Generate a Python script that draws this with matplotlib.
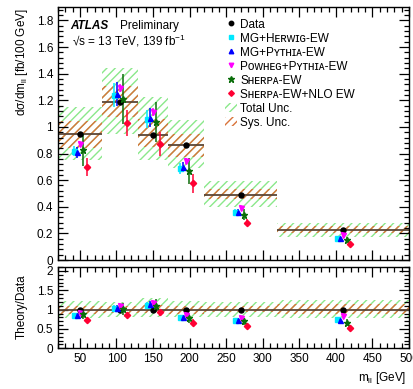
import numpy as np
import matplotlib
matplotlib.use('Agg')
import matplotlib.pyplot as plt
from matplotlib.lines import Line2D
from matplotlib.patches import Patch
from matplotlib.ticker import MultipleLocator, FuncFormatter

plt.rcParams['font.family'] = ['Liberation Sans', 'DejaVu Sans']
plt.rcParams['mathtext.default'] = 'regular'
plt.rcParams['hatch.linewidth'] = 1.0

# m_ll bins [GeV] and measured cross sections [fb/100 GeV]
edges = [20, 80, 130, 170, 220, 320, 500]
data_x = [50, 105, 150, 195, 270, 410]
data = [0.945, 1.19, 0.94, 0.863, 0.49, 0.225]

# uncertainty bands (lower / upper edges)
tot_lo = [0.75, 0.95, 0.75, 0.69, 0.40, 0.175]
tot_hi = [1.15, 1.44, 1.225, 1.05, 0.59, 0.28]
sys_lo = [0.845, 1.075, 0.85, 0.775, 0.455, 0.20]
sys_hi = [1.045, 1.31, 1.06, 0.95, 0.53, 0.255]

# theory predictions
mg_herwig = [0.82, 1.24, 1.06, 0.69, 0.36, 0.168]
mg_herwig_err = [0.04, 0.09, 0.07, 0.04, 0.02, 0.01]
mg_pythia = [0.81, 1.25, 1.07, 0.70, 0.36, 0.163]
mg_pythia_err = [0.04, 0.09, 0.07, 0.04, 0.02, 0.01]
powheg = [0.87, 1.295, 1.11, 0.745, 0.39, 0.19]
powheg_err = [0.02, 0.03, 0.03, 0.02, 0.01, 0.005]
sherpa = [0.83, 1.21, 1.04, 0.67, 0.34, 0.15]
sherpa_err = [0.12, 0.19, 0.15, 0.10, 0.04, 0.02]
sherpa_nlo = [0.70, 1.03, 0.875, 0.575, 0.28, 0.12]
sherpa_nlo_err = [0.07, 0.10, 0.09, 0.07, 0.025, 0.012]

labels = ['MG+Hᴇʀᴡɪɢ-EW', 'MG+Pʏᴛʜɪᴀ-EW', 'Pᴏᴡʜᴇɢ+Pʏᴛʜɪᴀ-EW',
          'Sʜᴇʀᴘᴀ-EW', 'Sʜᴇʀᴘᴀ-EW+NLO EW']

# styles
models = [
    (mg_herwig, mg_herwig_err, 's', '#00e8ff', -8),
    (mg_pythia, mg_pythia_err, '^', '#0000ff', -4),
    (powheg, powheg_err, 'v', '#ff00ff', 0),
    (sherpa, sherpa_err, '*', '#0a6e0a', 4.5),
    (sherpa_nlo, sherpa_nlo_err, 'D', '#ff0033', 9),
]
green = '#8be88b'
orange = '#d9733a'
line_col = '#5b4636'

edges_a = np.array(edges)
left = edges_a[:-1]
width = np.diff(edges_a)
dat = np.array(data)


def msize(m):
    if m == '*':
        return 5
    if m == 'D':
        return 3.2
    return 3.6


fig = plt.figure(figsize=(4.13, 3.89), dpi=100)
ax = fig.add_axes([0.1404, 0.3316, 0.85, 0.650])
rax = fig.add_axes([0.1404, 0.1046, 0.85, 0.2087])

# main panel
ax.bar(left, np.array(tot_hi) - np.array(tot_lo), bottom=tot_lo, width=width,
       align='edge', fill=False, hatch='////', edgecolor=green, lw=0)
ax.bar(left, np.array(sys_hi) - np.array(sys_lo), bottom=sys_lo, width=width,
       align='edge', fill=False, hatch='////', edgecolor=orange, lw=0)
ax.hlines(data, left, edges_a[1:], color=line_col, lw=1.3)
for (vals, errs, m, c, off) in models:
    ax.errorbar(np.array(data_x) + off, vals, yerr=errs, fmt=m, color=c,
                ms=msize(m), elinewidth=1.1, capsize=0)
ax.plot(data_x, data, 'o', color='k', ms=3.6)

# ratio panel
rax.bar(left, (np.array(tot_hi) - np.array(tot_lo)) / dat, bottom=np.array(tot_lo) / dat,
        width=width, align='edge', fill=False, hatch='////', edgecolor=green, lw=0)
rax.bar(left, (np.array(sys_hi) - np.array(sys_lo)) / dat, bottom=np.array(sys_lo) / dat,
        width=width, align='edge', fill=False, hatch='////', edgecolor=orange, lw=0)
rax.hlines(np.ones(len(data)), left, edges_a[1:], color=line_col, lw=1.3)
for (vals, errs, m, c, off) in models:
    rax.errorbar(np.array(data_x) + off, np.array(vals) / dat, yerr=np.array(errs) / dat,
                 fmt=m, color=c, ms=msize(m), elinewidth=1.1, capsize=0)
rax.plot(data_x, dat / dat, 'o', color='k', ms=3.6)

fmt = FuncFormatter(lambda v, p: f'{v:g}')
for a in (ax, rax):
    a.set_xlim(20, 500)
    a.xaxis.set_major_locator(MultipleLocator(50))
    a.xaxis.set_minor_locator(MultipleLocator(10))
    a.tick_params(which='both', direction='in', top=True, right=True, labelsize=8.5, width=0.9)
    a.tick_params(which='major', length=7)
    a.tick_params(which='minor', length=3.5)
    a.yaxis.set_major_formatter(fmt)
    for s in a.spines.values():
        s.set_linewidth(1.0)

ax.set_ylim(0, 1.9)
ax.yaxis.set_major_locator(MultipleLocator(0.2))
ax.yaxis.set_minor_locator(MultipleLocator(0.04))
ax.tick_params(labelbottom=False)

rax.set_ylim(0, 2.1)
rax.yaxis.set_major_locator(MultipleLocator(0.5))
rax.yaxis.set_minor_locator(MultipleLocator(0.1))

fig.text(22 / 413, 1 - 8 / 389, 'dσ/dm$_{ll}$ [fb/100 GeV]', rotation=90,
         ha='center', va='top', fontsize=8.5)
fig.text(22 / 413, 1 - 307 / 389, 'Theory/Data', rotation=90,
         ha='center', va='center', fontsize=8.5)
fig.text(0.985, 1 - 378 / 389, 'm$_{ll}$ [GeV]', ha='right', va='center', fontsize=8.5)

ax.text(0.034, 0.913, 'ATLAS', transform=ax.transAxes, fontsize=8.5,
        fontweight='bold', fontstyle='italic')
ax.text(0.178, 0.913, 'Preliminary', transform=ax.transAxes, fontsize=8.5)
ax.text(0.04, 0.85, '√s = 13 TeV, 139 fb$^{-1}$', transform=ax.transAxes, fontsize=8.5)

handles = [Line2D([], [], marker='o', color='k', ls='none', ms=3.2)]
for (vals, errs, m, c, off) in models:
    handles.append(Line2D([], [], marker=m, color=c, ls='none', ms=msize(m) * 0.9))
handles.append(Patch(facecolor='none', edgecolor=green, hatch='////', lw=0))
handles.append(Patch(facecolor='none', edgecolor=orange, hatch='////', lw=0))
leg = ax.legend(handles, ['Data'] + labels + ['Total Unc.', 'Sys. Unc.'],
                loc='upper left', bbox_to_anchor=(0.476, 0.955), frameon=False,
                fontsize=8.5, borderaxespad=0, borderpad=0, handlelength=1.0,
                handletextpad=0.3, labelspacing=0.17, handleheight=0.8)

fig.savefig('out.png', dpi=100)
